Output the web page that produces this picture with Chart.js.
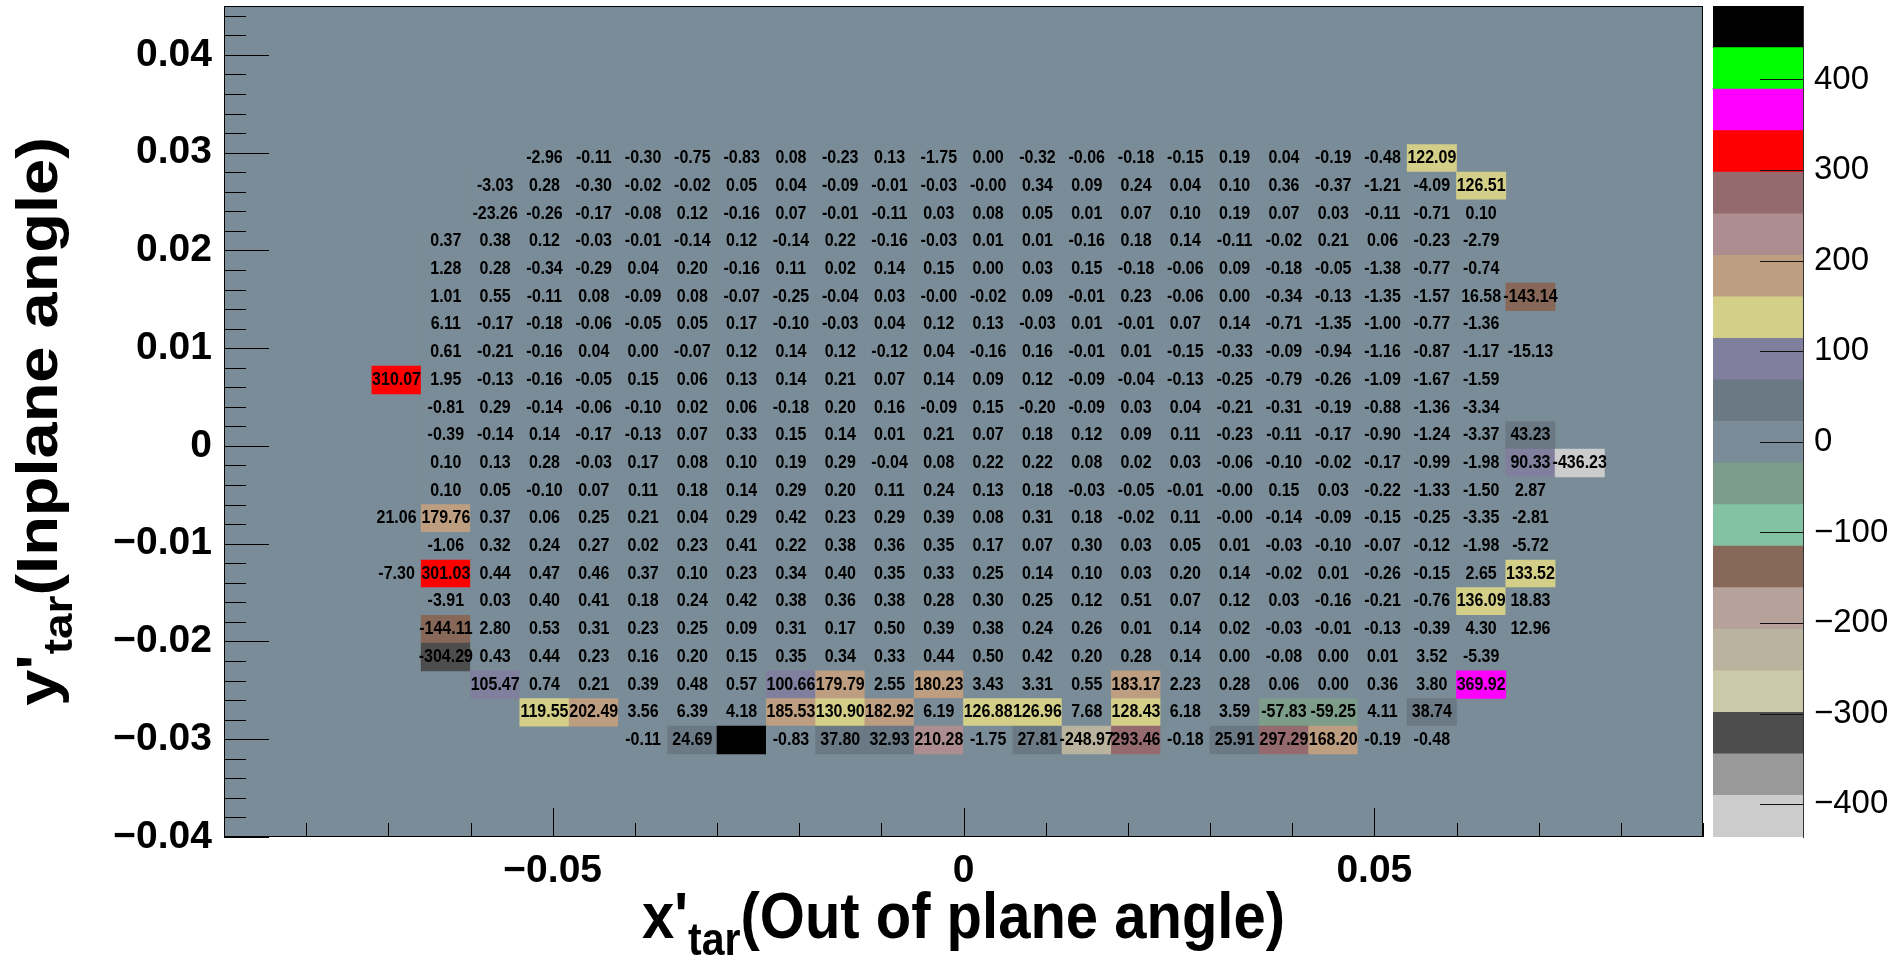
<!DOCTYPE html>
<html>
<head>
<meta charset="utf-8">
<script src="https://cdn.jsdelivr.net/npm/chart.js@4.4.1/dist/chart.umd.min.js"></script>
<style>
  html, body { margin: 0; padding: 0; background: #ffffff; overflow: hidden; }
  #wrap { position: relative; width: 1896px; height: 961px; }
  #main { position: absolute; left: 0; top: 0; }
  #zbar { position: absolute; left: 1703px; top: 0; }
</style>
</head>
<body>
<div id="wrap">
  <canvas id="main" width="1896" height="961"></canvas>
  <canvas id="zbar" width="193" height="961"></canvas>
</div>
<script>
// ---- histogram binning (x'tar vs y'tar) ----
const xMin = -0.09, xMax = 0.09, nBinsX = 30;
const yMin = -0.04, yMax = 0.045, nBinsY = 30;

// y-bin index of each filled row (top to bottom) and x-bin index of its first filled cell
const rowBinY      = [24, 23, 22, 21, 20, 19, 18, 17, 16, 15, 14, 13, 12, 11, 10, 9, 8, 7, 6, 5, 4, 3];
const rowFirstBinX = [ 6,  5,  5,  4,  4,  4,  4,  4,  3,  4,  4,  4,  4,  3,  4, 3, 4, 4, 4, 5, 6, 8];

// bin contents, one array per row
const row24 = [-2.96, -0.11, -0.30, -0.75, -0.83, 0.08, -0.23, 0.13, -1.75, 0.00, -0.32, -0.06, -0.18, -0.15, 0.19, 0.04, -0.19, -0.48, 122.09];
const row23 = [-3.03, 0.28, -0.30, -0.02, -0.02, 0.05, 0.04, -0.09, -0.01, -0.03, -0.001, 0.34, 0.09, 0.24, 0.04, 0.10, 0.36, -0.37, -1.21, -4.09, 126.51];
const row22 = [-23.26, -0.26, -0.17, -0.08, 0.12, -0.16, 0.07, -0.01, -0.11, 0.03, 0.08, 0.05, 0.01, 0.07, 0.10, 0.19, 0.07, 0.03, -0.11, -0.71, 0.10];
const row21 = [0.37, 0.38, 0.12, -0.03, -0.01, -0.14, 0.12, -0.14, 0.22, -0.16, -0.03, 0.01, 0.01, -0.16, 0.18, 0.14, -0.11, -0.02, 0.21, 0.06, -0.23, -2.79];
const row20 = [1.28, 0.28, -0.34, -0.29, 0.04, 0.20, -0.16, 0.11, 0.02, 0.14, 0.15, 0.00, 0.03, 0.15, -0.18, -0.06, 0.09, -0.18, -0.05, -1.38, -0.77, -0.74];
const row19 = [1.01, 0.55, -0.11, 0.08, -0.09, 0.08, -0.07, -0.25, -0.04, 0.03, -0.001, -0.02, 0.09, -0.01, 0.23, -0.06, 0.00, -0.34, -0.13, -1.35, -1.57, 16.58, -143.14];
const row18 = [6.11, -0.17, -0.18, -0.06, -0.05, 0.05, 0.17, -0.10, -0.03, 0.04, 0.12, 0.13, -0.03, 0.01, -0.01, 0.07, 0.14, -0.71, -1.35, -1.00, -0.77, -1.36];
const row17 = [0.61, -0.21, -0.16, 0.04, 0.00, -0.07, 0.12, 0.14, 0.12, -0.12, 0.04, -0.16, 0.16, -0.01, 0.01, -0.15, -0.33, -0.09, -0.94, -1.16, -0.87, -1.17, -15.13];
const row16 = [310.07, 1.95, -0.13, -0.16, -0.05, 0.15, 0.06, 0.13, 0.14, 0.21, 0.07, 0.14, 0.09, 0.12, -0.09, -0.04, -0.13, -0.25, -0.79, -0.26, -1.09, -1.67, -1.59];
const row15 = [-0.81, 0.29, -0.14, -0.06, -0.10, 0.02, 0.06, -0.18, 0.20, 0.16, -0.09, 0.15, -0.20, -0.09, 0.03, 0.04, -0.21, -0.31, -0.19, -0.88, -1.36, -3.34];
const row14 = [-0.39, -0.14, 0.14, -0.17, -0.13, 0.07, 0.33, 0.15, 0.14, 0.01, 0.21, 0.07, 0.18, 0.12, 0.09, 0.11, -0.23, -0.11, -0.17, -0.90, -1.24, -3.37, 43.23];
const row13 = [0.10, 0.13, 0.28, -0.03, 0.17, 0.08, 0.10, 0.19, 0.29, -0.04, 0.08, 0.22, 0.22, 0.08, 0.02, 0.03, -0.06, -0.10, -0.02, -0.17, -0.99, -1.98, 90.33, -436.23];
const row12 = [0.10, 0.05, -0.10, 0.07, 0.11, 0.18, 0.14, 0.29, 0.20, 0.11, 0.24, 0.13, 0.18, -0.03, -0.05, -0.01, -0.001, 0.15, 0.03, -0.22, -1.33, -1.50, 2.87];
const row11 = [21.06, 179.76, 0.37, 0.06, 0.25, 0.21, 0.04, 0.29, 0.42, 0.23, 0.29, 0.39, 0.08, 0.31, 0.18, -0.02, 0.11, -0.001, -0.14, -0.09, -0.15, -0.25, -3.35, -2.81];
const row10 = [-1.06, 0.32, 0.24, 0.27, 0.02, 0.23, 0.41, 0.22, 0.38, 0.36, 0.35, 0.17, 0.07, 0.30, 0.03, 0.05, 0.01, -0.03, -0.10, -0.07, -0.12, -1.98, -5.72];
const row9  = [-7.30, 301.03, 0.44, 0.47, 0.46, 0.37, 0.10, 0.23, 0.34, 0.40, 0.35, 0.33, 0.25, 0.14, 0.10, 0.03, 0.20, 0.14, -0.02, 0.01, -0.26, -0.15, 2.65, 133.52];
const row8  = [-3.91, 0.03, 0.40, 0.41, 0.18, 0.24, 0.42, 0.38, 0.36, 0.38, 0.28, 0.30, 0.25, 0.12, 0.51, 0.07, 0.12, 0.03, -0.16, -0.21, -0.76, 136.09, 18.83];
const row7  = [-144.11, 2.80, 0.53, 0.31, 0.23, 0.25, 0.09, 0.31, 0.17, 0.50, 0.39, 0.38, 0.24, 0.26, 0.01, 0.14, 0.02, -0.03, -0.01, -0.13, -0.39, 4.30, 12.96];
const row6  = [-304.29, 0.43, 0.44, 0.23, 0.16, 0.20, 0.15, 0.35, 0.34, 0.33, 0.44, 0.50, 0.42, 0.20, 0.28, 0.14, 0.00, -0.08, 0.00, 0.01, 3.52, -5.39];
const row5  = [105.47, 0.74, 0.21, 0.39, 0.48, 0.57, 100.66, 179.79, 2.55, 180.23, 3.43, 3.31, 0.55, 183.17, 2.23, 0.28, 0.06, 0.00, 0.36, 3.80, 369.92];
const row4  = [119.55, 202.49, 3.56, 6.39, 4.18, 185.53, 130.90, 182.92, 6.19, 126.88, 126.96, 7.68, 128.43, 6.18, 3.59, -57.83, -59.25, 4.11, 38.74];
const row3  = [-0.11, 24.69, 481.10, -0.83, 37.80, 32.93, 210.28, -1.75, 27.81, -248.97, 293.46, -0.18, 25.91, 297.29, 168.20, -0.19, -0.48];

const rows = [row24, row23, row22, row21, row20, row19, row18, row17, row16, row15, row14,
              row13, row12, row11, row10, row9, row8, row7, row6, row5, row4, row3];

// axis ticks and their labels
const xTickValues = [-0.05, 0, 0.05];
const xTickLabels = ['\u22120.05', '0', '0.05'];
const yTickValues = [-0.04, -0.03, -0.02, -0.01, 0, 0.01, 0.02, 0.03, 0.04];
const yTickLabels = ['\u22120.04', '\u22120.03', '\u22120.02', '\u22120.01', '0', '0.01', '0.02', '0.03', '0.04'];
const zTickValues = [-400, -300, -200, -100, 0, 100, 200, 300, 400];
const zTickLabels = ['\u2212400', '\u2212300', '\u2212200', '\u2212100', '0', '100', '200', '300', '400'];

// 20-level colour palette, lowest level first
const palette = ['#cccccc', '#999999', '#4d4d4d', '#ccc8aa', '#bab49f', '#b6a29b', '#876858', '#84c2a4',
                 '#7d9c89', '#798c97', '#6b7985', '#807f9d', '#d4cf88', '#be9e80', '#ad8d8f', '#946a6f',
                 '#ff0000', '#ff00ff', '#00ff00', '#000000'];

// ---- derived ----
const FONT = "'Liberation Sans', Arial, Helvetica, sans-serif";
const TEXT_VS = 1.12;           // vertical stretch of the lettering
const frameFill = palette[9];
const dx = (xMax - xMin) / nBinsX;
const dy = (yMax - yMin) / nBinsY;

const cells = [];
rows.forEach((vals, r) => {
  vals.forEach((v, j) => {
    const ix = rowFirstBinX[r] + j;
    const iy = rowBinY[r];
    cells.push({ x: xMin + (ix + 0.5) * dx, y: [yMin + iy * dy, yMin + (iy + 1) * dy], v: v });
  });
});
const allValues = cells.map(c => c.v);
const zMin = Math.min(...allValues);
const zMax = Math.max(...allValues);
const nLevels = palette.length;
const levelWidth = (zMax - zMin) / nLevels;

function levelColor(v) {
  let k = Math.floor((v - zMin) / levelWidth);
  if (k < 0) k = 0;
  if (k >= nLevels) k = nLevels - 1;
  return palette[k];
}

function minorSteps(lo, step, count) {
  const out = [];
  for (let i = 0; i <= count; i++) out.push(lo + i * step);
  return out;
}
const xMinorTicks = minorSteps(-0.09, 0.01, 18);
const yMinorTicks = minorSteps(-0.04, 0.002, 42);

// keep the plotting box fixed: no extra room reserved for end labels
function noEndPadding(s) {
  s.paddingTop = 0; s.paddingBottom = 0; s.paddingLeft = 0; s.paddingRight = 0;
}

// draws a run of text pieces (main text + subscripts) with a slight vertical stretch
function stretchedText(ctx, parts, x, y, angle, align) {
  ctx.save();
  ctx.translate(x, y);
  ctx.scale(1, TEXT_VS);
  ctx.rotate(angle);
  let total = 0;
  parts.forEach(p => {
    ctx.font = `${p.weight || 'bold'} ${p.size}px ${FONT}`;
    p.w = ctx.measureText(p.text).width;
    total += p.w;
  });
  let cx = align === 'center' ? -total / 2 : 0;
  ctx.textAlign = 'left';
  ctx.textBaseline = parts[0].baseline || 'alphabetic';
  ctx.fillStyle = '#000';
  parts.forEach(p => {
    ctx.font = `${p.weight || 'bold'} ${p.size}px ${FONT}`;
    ctx.fillText(p.text, cx, p.dy || 0);
    cx += p.w;
  });
  ctx.restore();
}

// ---- frame, cell labels, tick marks and titles ----
const histPlugin = {
  id: 'histDecor',
  beforeDatasetsDraw(chart) {
    const { ctx, chartArea: a } = chart;
    ctx.save();
    ctx.fillStyle = frameFill;
    ctx.fillRect(a.left, a.top, a.right - a.left, a.bottom - a.top);
    ctx.restore();
  },
  afterDatasetsDraw(chart) {
    const { ctx, chartArea: a, scales } = chart;
    const meta = chart.getDatasetMeta(0);
    const data = chart.data.datasets[0].data;
    meta.data.forEach((el, i) => {
      const cy = (el.y + el.base) / 2;
      stretchedText(ctx, [{ text: data[i].v.toFixed(2), size: 16, baseline: 'middle' }], el.x, cy, 0, 'center');
    });

    ctx.save();
    ctx.strokeStyle = '#000';
    ctx.lineWidth = 1;
    ctx.beginPath();
    xMinorTicks.forEach(v => {
      const px = Math.round(scales.x.getPixelForValue(v)) + 0.5;
      ctx.moveTo(px, a.bottom); ctx.lineTo(px, a.bottom - 14);
    });
    xTickValues.forEach(v => {
      const px = Math.round(scales.x.getPixelForValue(v)) + 0.5;
      ctx.moveTo(px, a.bottom); ctx.lineTo(px, a.bottom - 29);
    });
    yMinorTicks.forEach(v => {
      const py = Math.round(scales.y.getPixelForValue(v)) + 0.5;
      ctx.moveTo(a.left, py); ctx.lineTo(a.left + 22, py);
    });
    yTickValues.forEach(v => {
      const py = Math.round(scales.y.getPixelForValue(v)) + 0.5;
      ctx.moveTo(a.left, py); ctx.lineTo(a.left + 45, py);
    });
    ctx.stroke();
    ctx.strokeRect(a.left + 0.5, a.top + 0.5, a.right - a.left - 1, a.bottom - a.top - 1);
    ctx.restore();
  },
  afterDraw(chart) {
    const { ctx, chartArea: a } = chart;
    stretchedText(ctx, [
      { text: "x'", size: 58 },
      { text: 'tar', size: 41, dy: 15 },
      { text: '(Out of plane angle)', size: 58 }
    ], (a.left + a.right) / 2, 938, 0, 'center');
    stretchedText(ctx, [
      { text: "y'", size: 58 },
      { text: 'tar', size: 41, dy: 15 },
      { text: '(Inplane angle)', size: 58 }
    ], 57, (a.top + a.bottom) / 2, -Math.PI / 2, 'center');
  }
};

new Chart(document.getElementById('main'), {
  type: 'bar',
  data: {
    datasets: [{
      data: cells,
      backgroundColor: ctx => (ctx.raw ? levelColor(ctx.raw.v) : frameFill),
      borderWidth: 0,
      barPercentage: 1,
      categoryPercentage: 1
    }]
  },
  options: {
    responsive: false,
    animation: false,
    devicePixelRatio: 1,
    layout: { padding: { top: 6, right: 193, bottom: 0, left: 0 } },
    plugins: { legend: { display: false }, tooltip: { enabled: false } },
    events: [],
    scales: {
      x: {
        type: 'linear', min: xMin, max: xMax, offset: false, position: 'bottom',
        grid: { display: false, drawTicks: false },
        border: { display: false },
        afterBuildTicks: s => { s.ticks = xTickValues.map(value => ({ value })); },
        afterFit: s => { s.height = 124; noEndPadding(s); },
        ticks: {
          autoSkip: false, maxRotation: 0, padding: 11, color: '#000',
          font: { family: FONT, weight: 'bold', size: 39 },
          callback: (v, i) => xTickLabels[i]
        }
      },
      y: {
        type: 'linear', min: yMin, max: yMax, position: 'left',
        grid: { display: false, drawTicks: false },
        border: { display: false },
        afterBuildTicks: s => { s.ticks = yTickValues.map(value => ({ value })); },
        afterFit: s => { s.width = 224; noEndPadding(s); },
        ticks: {
          autoSkip: false, padding: 12, color: '#000',
          font: { family: FONT, weight: 'bold', size: 39 },
          callback: (v, i) => yTickLabels[i]
        }
      }
    }
  },
  plugins: [histPlugin]
});

// ---- colour scale ----
const zTickPlugin = {
  id: 'zTicks',
  afterDatasetsDraw(chart) {
    const { ctx, chartArea: a, scales } = chart;
    ctx.save();
    ctx.strokeStyle = '#111';
    ctx.lineWidth = 1;
    ctx.beginPath();
    zTickValues.forEach(v => {
      const py = Math.round(scales.z.getPixelForValue(v)) + 0.5;
      ctx.moveTo(a.right, py); ctx.lineTo(a.right - 43, py);
    });
    ctx.stroke();
    ctx.restore();
  }
};

new Chart(document.getElementById('zbar'), {
  type: 'bar',
  data: {
    labels: [''],
    datasets: palette.map((c, k) => ({
      data: [[zMin + k * levelWidth, zMin + (k + 1) * levelWidth]],
      backgroundColor: c,
      borderWidth: 0,
      grouped: false,
      barPercentage: 1,
      categoryPercentage: 1,
      xAxisID: 'cx',
      yAxisID: 'z'
    }))
  },
  options: {
    responsive: false,
    animation: false,
    devicePixelRatio: 1,
    layout: { padding: { top: 6, right: 0, bottom: 124, left: 10 } },
    plugins: { legend: { display: false }, tooltip: { enabled: false } },
    events: [],
    scales: {
      cx: { type: 'category', display: false, offset: true },
      z: {
        type: 'linear', position: 'right', min: zMin, max: zMax,
        grid: { display: false, drawTicks: false },
        border: { display: true, color: '#333', width: 1 },
        afterBuildTicks: s => { s.ticks = zTickValues.map(value => ({ value })); },
        afterFit: s => { s.width = 93; noEndPadding(s); },
        ticks: {
          autoSkip: false, padding: 11, color: '#000',
          font: { family: FONT, size: 33 },
          callback: (v, i) => zTickLabels[i]
        }
      }
    }
  },
  plugins: [zTickPlugin]
});
</script>
</body>
</html>
